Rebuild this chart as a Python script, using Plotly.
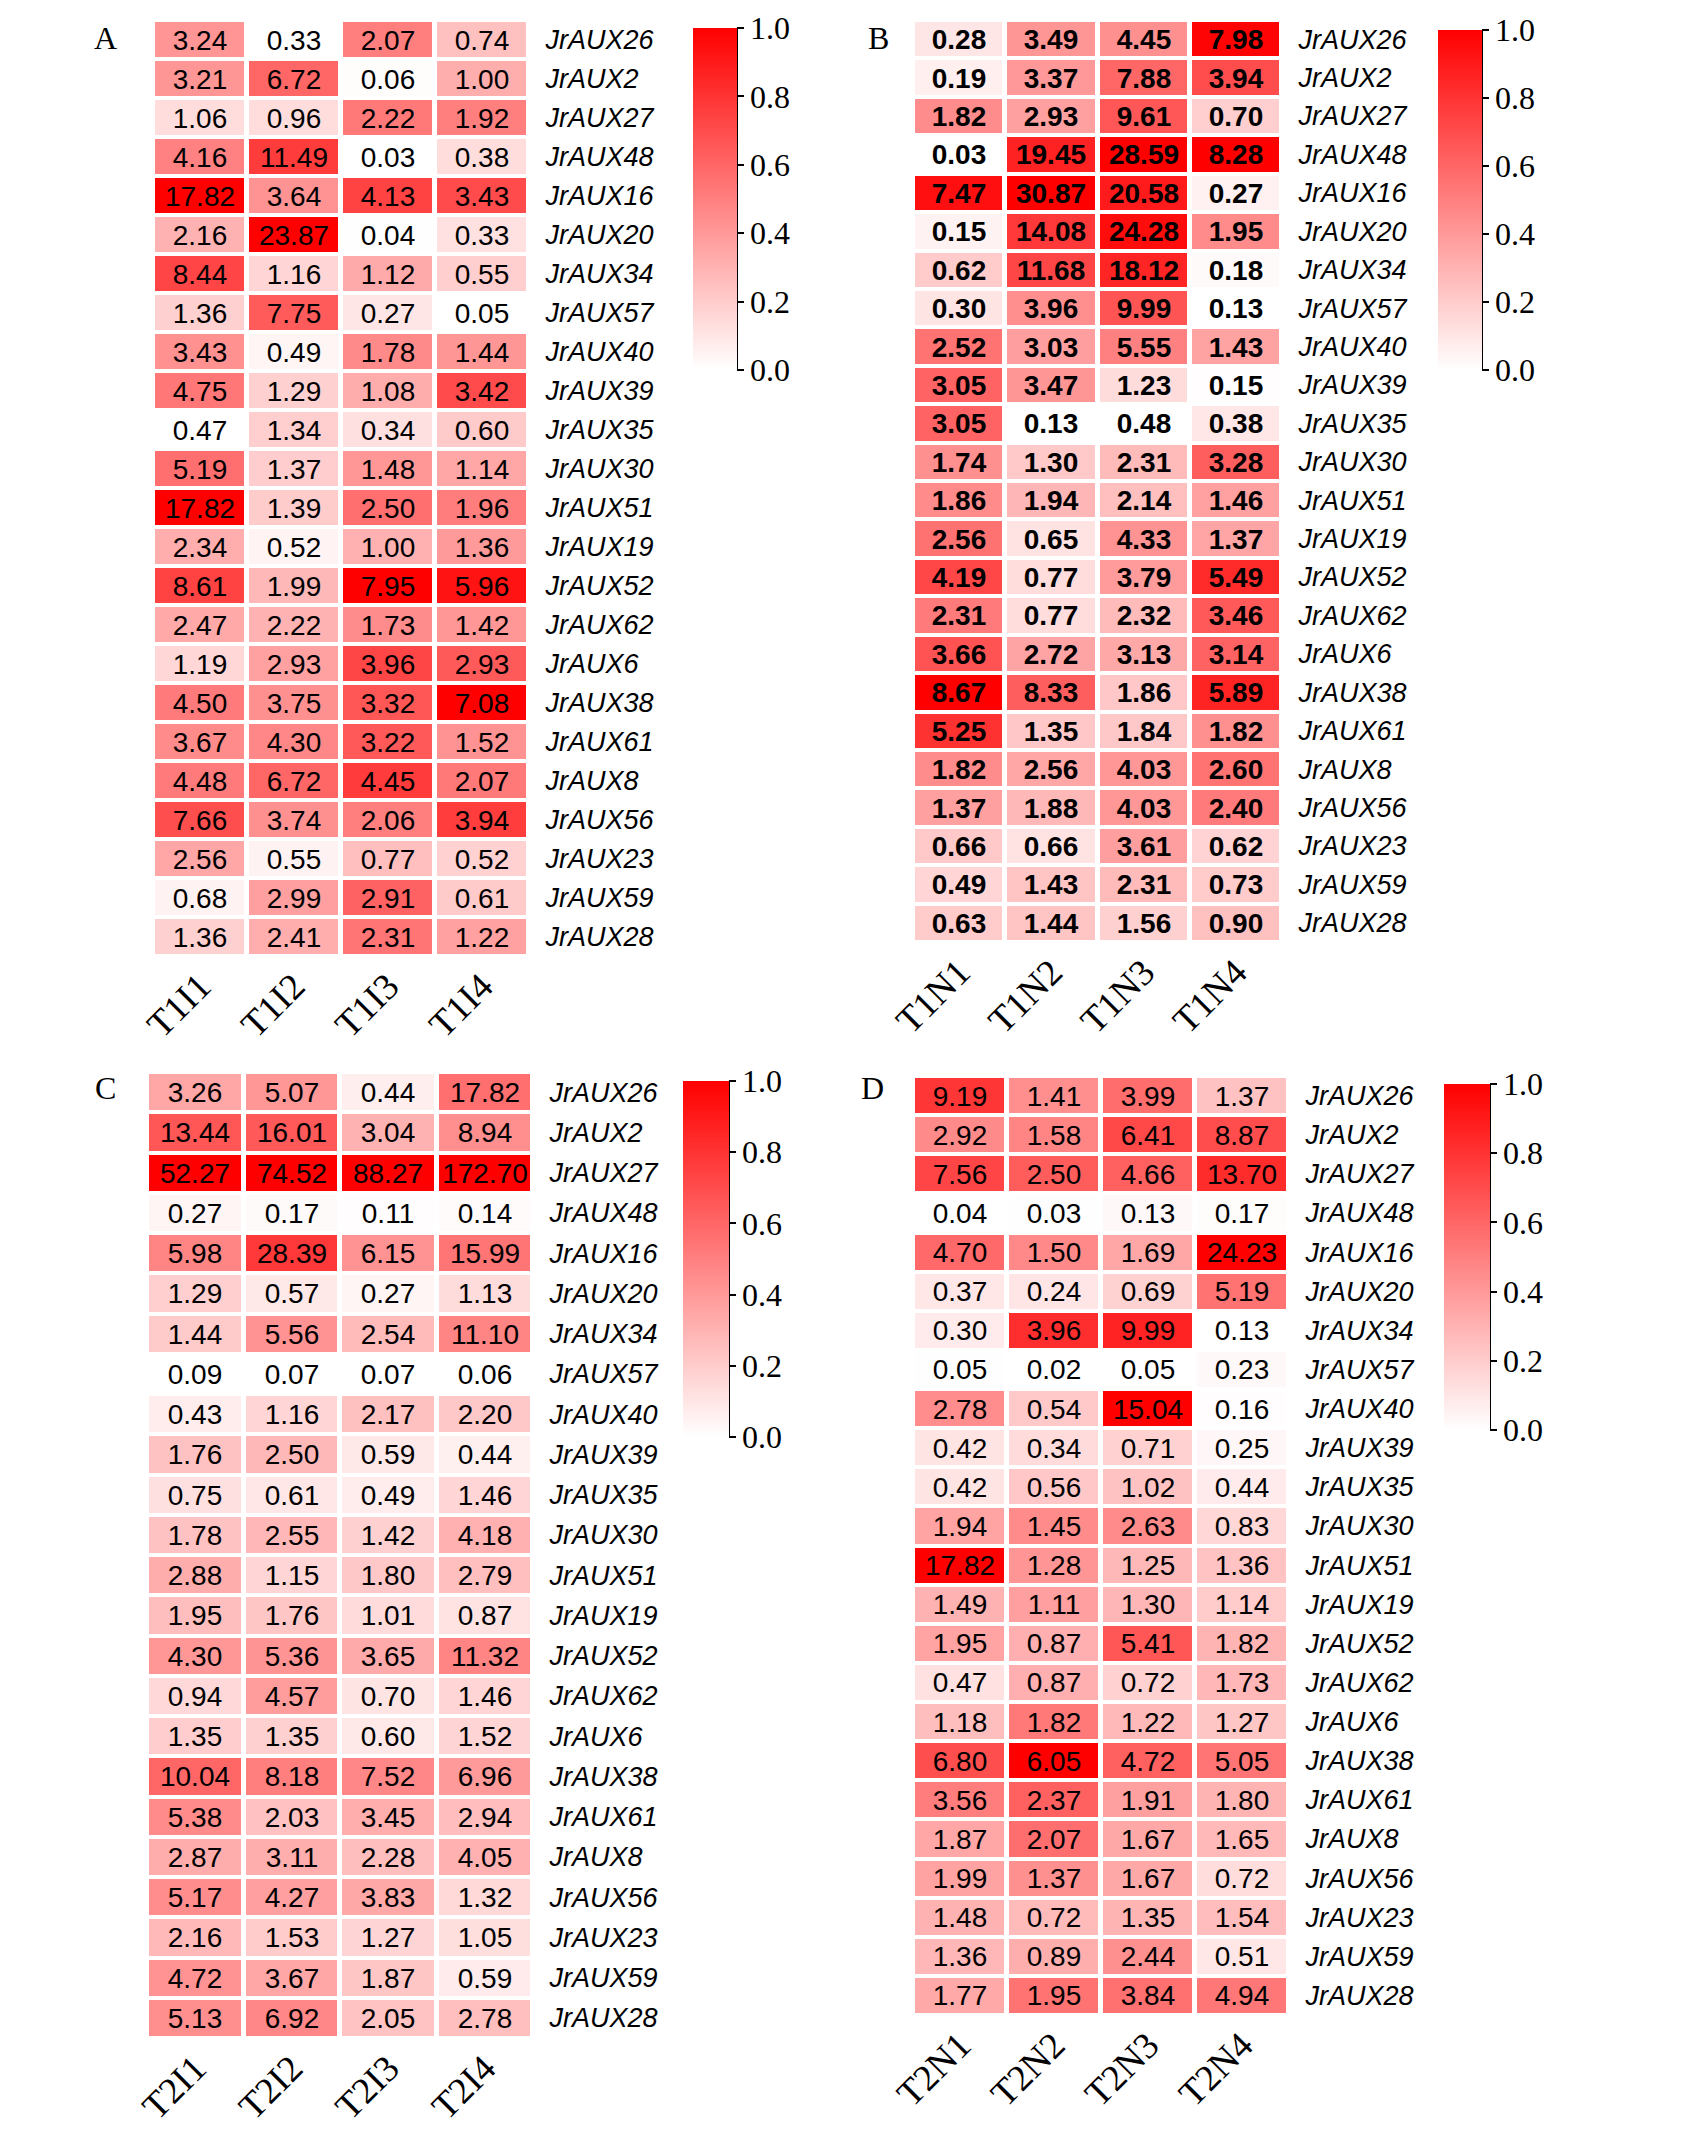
import numpy as np
import plotly.graph_objects as go

genes = ["JrAUX26", "JrAUX2", "JrAUX27", "JrAUX48", "JrAUX16", "JrAUX20",
         "JrAUX34", "JrAUX57", "JrAUX40", "JrAUX39", "JrAUX35", "JrAUX30",
         "JrAUX51", "JrAUX19", "JrAUX52", "JrAUX62", "JrAUX6", "JrAUX38",
         "JrAUX61", "JrAUX8", "JrAUX56", "JrAUX23", "JrAUX59", "JrAUX28"]

cols_a = ["T1I1", "T1I2", "T1I3", "T1I4"]
cols_b = ["T1N1", "T1N2", "T1N3", "T1N4"]
cols_c = ["T2I1", "T2I2", "T2I3", "T2I4"]
cols_d = ["T2N1", "T2N2", "T2N3", "T2N4"]

# one row per gene, same order as genes
vals_a = [[3.24, 0.33, 2.07, 0.74], [3.21, 6.72, 0.06, 1.00], [1.06, 0.96, 2.22, 1.92],
          [4.16, 11.49, 0.03, 0.38], [17.82, 3.64, 4.13, 3.43], [2.16, 23.87, 0.04, 0.33],
          [8.44, 1.16, 1.12, 0.55], [1.36, 7.75, 0.27, 0.05], [3.43, 0.49, 1.78, 1.44],
          [4.75, 1.29, 1.08, 3.42], [0.47, 1.34, 0.34, 0.60], [5.19, 1.37, 1.48, 1.14],
          [17.82, 1.39, 2.50, 1.96], [2.34, 0.52, 1.00, 1.36], [8.61, 1.99, 7.95, 5.96],
          [2.47, 2.22, 1.73, 1.42], [1.19, 2.93, 3.96, 2.93], [4.50, 3.75, 3.32, 7.08],
          [3.67, 4.30, 3.22, 1.52], [4.48, 6.72, 4.45, 2.07], [7.66, 3.74, 2.06, 3.94],
          [2.56, 0.55, 0.77, 0.52], [0.68, 2.99, 2.91, 0.61], [1.36, 2.41, 2.31, 1.22]]

vals_b = [[0.28, 3.49, 4.45, 7.98], [0.19, 3.37, 7.88, 3.94], [1.82, 2.93, 9.61, 0.70],
          [0.03, 19.45, 28.59, 8.28], [7.47, 30.87, 20.58, 0.27], [0.15, 14.08, 24.28, 1.95],
          [0.62, 11.68, 18.12, 0.18], [0.30, 3.96, 9.99, 0.13], [2.52, 3.03, 5.55, 1.43],
          [3.05, 3.47, 1.23, 0.15], [3.05, 0.13, 0.48, 0.38], [1.74, 1.30, 2.31, 3.28],
          [1.86, 1.94, 2.14, 1.46], [2.56, 0.65, 4.33, 1.37], [4.19, 0.77, 3.79, 5.49],
          [2.31, 0.77, 2.32, 3.46], [3.66, 2.72, 3.13, 3.14], [8.67, 8.33, 1.86, 5.89],
          [5.25, 1.35, 1.84, 1.82], [1.82, 2.56, 4.03, 2.60], [1.37, 1.88, 4.03, 2.40],
          [0.66, 0.66, 3.61, 0.62], [0.49, 1.43, 2.31, 0.73], [0.63, 1.44, 1.56, 0.90]]

vals_c = [[3.26, 5.07, 0.44, 17.82], [13.44, 16.01, 3.04, 8.94], [52.27, 74.52, 88.27, 172.70],
          [0.27, 0.17, 0.11, 0.14], [5.98, 28.39, 6.15, 15.99], [1.29, 0.57, 0.27, 1.13],
          [1.44, 5.56, 2.54, 11.10], [0.09, 0.07, 0.07, 0.06], [0.43, 1.16, 2.17, 2.20],
          [1.76, 2.50, 0.59, 0.44], [0.75, 0.61, 0.49, 1.46], [1.78, 2.55, 1.42, 4.18],
          [2.88, 1.15, 1.80, 2.79], [1.95, 1.76, 1.01, 0.87], [4.30, 5.36, 3.65, 11.32],
          [0.94, 4.57, 0.70, 1.46], [1.35, 1.35, 0.60, 1.52], [10.04, 8.18, 7.52, 6.96],
          [5.38, 2.03, 3.45, 2.94], [2.87, 3.11, 2.28, 4.05], [5.17, 4.27, 3.83, 1.32],
          [2.16, 1.53, 1.27, 1.05], [4.72, 3.67, 1.87, 0.59], [5.13, 6.92, 2.05, 2.78]]

vals_d = [[9.19, 1.41, 3.99, 1.37], [2.92, 1.58, 6.41, 8.87], [7.56, 2.50, 4.66, 13.70],
          [0.04, 0.03, 0.13, 0.17], [4.70, 1.50, 1.69, 24.23], [0.37, 0.24, 0.69, 5.19],
          [0.30, 3.96, 9.99, 0.13], [0.05, 0.02, 0.05, 0.23], [2.78, 0.54, 15.04, 0.16],
          [0.42, 0.34, 0.71, 0.25], [0.42, 0.56, 1.02, 0.44], [1.94, 1.45, 2.63, 0.83],
          [17.82, 1.28, 1.25, 1.36], [1.49, 1.11, 1.30, 1.14], [1.95, 0.87, 5.41, 1.82],
          [0.47, 0.87, 0.72, 1.73], [1.18, 1.82, 1.22, 1.27], [6.80, 6.05, 4.72, 5.05],
          [3.56, 2.37, 1.91, 1.80], [1.87, 2.07, 1.67, 1.65], [1.99, 1.37, 1.67, 0.72],
          [1.48, 0.72, 1.35, 1.54], [1.36, 0.89, 2.44, 0.51], [1.77, 1.95, 3.84, 4.94]]

W, H = 1690, 2139
OFF = 8  # page body margin
SANS = "Liberation Sans, Arial, sans-serif"
SERIF = "Liberation Serif, Times New Roman, serif"

# pixel boxes: heatmap (x0, x1, y0, y1), colorbar (x0, thick, y0, y1), letter pos
panels = [
    ("A", cols_a, vals_a, False, (153, 529, 20, 956), (693, 44, 28, 370), (105, 38)),
    ("B", cols_b, vals_b, True, (913, 1282, 20, 942), (1438, 44, 30, 370), (879, 38)),
    ("C", cols_c, vals_c, False, (147, 533, 1072, 2038), (683, 46, 1081, 1437), (105, 1088)),
    ("D", cols_d, vals_d, False, (913, 1289, 1076, 2015), (1444, 46, 1084, 1430), (872, 1088)),
]


def px(x):
    return (x - OFF) / W


def py(y):
    return 1 - (y - OFF) / H


def col_scaled(v):
    a = np.log2(np.array(v) + 1)
    return (a - a.min(axis=0)) / (a.max(axis=0) - a.min(axis=0))


fig = go.Figure()
annotations = []
shapes = []

for i, (letter, cols, vals, bold, hm, cb, lp) in enumerate(panels):
    n = "" if i == 0 else str(i + 1)
    txt = [[f"{v:.2f}" for v in row] for row in vals]
    cx0, thick, cy0, cy1 = cb
    fig.add_trace(go.Heatmap(
        z=col_scaled(vals), x=cols, y=genes, text=txt,
        texttemplate="<b>%{text}</b>" if bold else "%{text}",
        textfont=dict(family=SANS, size=28, color="black"),
        colorscale=[[0, "#FFFFFF"], [1, "#FF0000"]], zmin=0, zmax=1,
        xgap=5, ygap=4, hoverinfo="skip",
        xaxis="x" + n, yaxis="y" + n,
        colorbar=dict(
            x=px(cx0), xanchor="left", xpad=0, ypad=0,
            y=(py(cy0) + py(cy1)) / 2, yanchor="middle",
            len=(cy1 - cy0) / H, thickness=thick, outlinewidth=0,
            tickvals=[0, 0.2, 0.4, 0.6, 0.8, 1.0], tickformat=".1f",
            ticks="outside", ticklen=7, tickwidth=2, tickcolor="black",
            tickfont=dict(family=SERIF, size=32, color="black"),
        ),
    ))
    x0, x1, y0, y1 = hm
    fig.update_layout({
        "xaxis" + n: dict(domain=[px(x0), px(x1)], anchor="y" + n, showgrid=False,
                          zeroline=False, showline=False, tickangle=-45,
                          automargin=False, ticks="",
                          tickfont=dict(family=SERIF, size=37, color="black")),
        "yaxis" + n: dict(domain=[py(y1), py(y0)], anchor="x" + n, side="right",
                          autorange="reversed", showgrid=False, zeroline=False,
                          automargin=False,
                          ticks="outside", ticklen=10, tickcolor="rgba(0,0,0,0)",
                          tickfont=dict(family=SANS, size=27, color="black",
                                        style="italic")),
    })
    annotations.append(dict(text=letter, x=px(lp[0]), y=py(lp[1]),
                            xref="paper", yref="paper", showarrow=False,
                            xanchor="center", yanchor="middle",
                            font=dict(family=SERIF, size=32, color="black")))
    shapes.append(dict(type="line", xref="paper", yref="paper",
                       x0=px(cx0 + thick), x1=px(cx0 + thick),
                       y0=py(cy1), y1=py(cy0),
                       line=dict(color="black", width=2)))

fig.update_layout(width=W, height=H, template="none",
                  margin=dict(l=0, r=0, t=0, b=0, autoexpand=False),
                  paper_bgcolor="white", plot_bgcolor="white",
                  annotations=annotations, shapes=shapes)

fig.write_html("out.html")
